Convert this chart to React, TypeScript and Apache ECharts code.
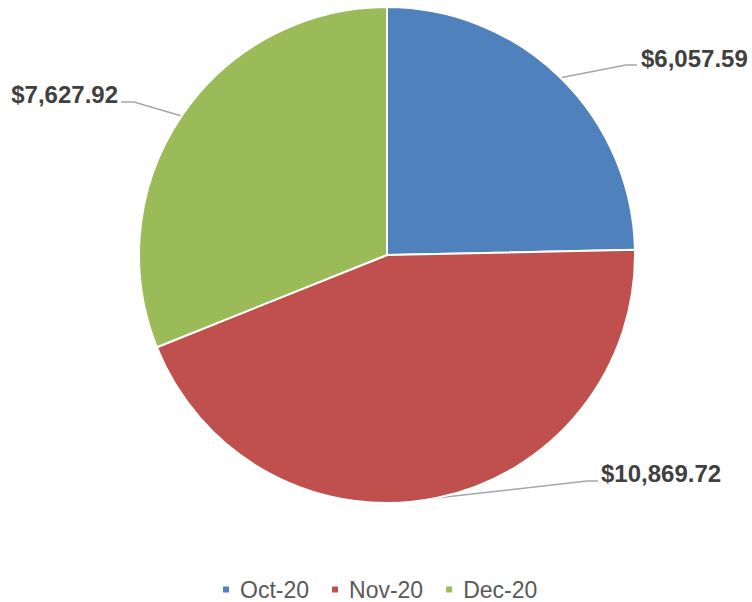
import React, { useEffect, useRef } from "react";
import * as echarts from "echarts";

const categories = ["Oct-20", "Nov-20", "Dec-20"];
const values = [6057.59, 10869.72, 7627.92];
const colors = ["#4F81BD", "#C0504D", "#9BBB59"];

const FONT = "'Liberation Sans', Arial, Helvetica, sans-serif";

function fmt(v: number) {
  return "$" + v.toLocaleString("en-US", { minimumFractionDigits: 2, maximumFractionDigits: 2 });
}

// label placement (text anchor + elbow of leader line)
const labelPlace = [
  { x: 641, y: 58, align: "left", elbow: [626, 65], end: [637, 65] },
  { x: 601, y: 473, align: "left", elbow: [587, 481], end: [598, 481] },
  { x: 118, y: 94, align: "right", elbow: [134, 102], end: [121, 102] },
];

export default function App() {
  const ref = useRef<HTMLDivElement>(null);
  useEffect(() => {
    if (!ref.current) return;
    const chart = echarts.init(ref.current, undefined, { renderer: "svg" });
    chart.setOption({
      animation: false,
      backgroundColor: "#ffffff",
      color: colors,
      legend: {
        top: 573,
        left: 216,
        icon: "rect",
        itemWidth: 8,
        itemHeight: 8,
        itemGap: 21,
        textStyle: { fontFamily: FONT, fontSize: 23, color: "#595959", padding: [0, 0, 0, 5] },
        data: categories,
      },
      series: [
        {
          type: "pie",
          center: [387, 255],
          radius: 248,
          startAngle: 90,
          clockwise: true,
          itemStyle: { borderColor: "#ffffff", borderWidth: 2 },
          label: {
            show: true,
            formatter: (p: any) => fmt(p.value),
            fontFamily: FONT,
            fontSize: 24,
            fontWeight: "bold",
            color: "#404040",
          },
          labelLine: { show: true, length: 20, length2: 10, lineStyle: { color: "#A6A6A6", width: 1.5 } },
          labelLayout: (params: any) => {
            const lp = labelPlace[params.dataIndex];
            const p0 = params.labelLinePoints ? params.labelLinePoints[0] : lp.elbow;
            return {
              x: lp.x,
              y: lp.y,
              align: lp.align,
              verticalAlign: "middle",
              labelLinePoints: [p0, lp.elbow, lp.end],
            };
          },
          data: categories.map((c, i) => ({ name: c, value: values[i] })),
        },
      ],
    });
    return () => chart.dispose();
  }, []);
  return <div ref={ref} style={{ position: "fixed", left: 0, top: 0, width: 752, height: 602 }} />;
}
